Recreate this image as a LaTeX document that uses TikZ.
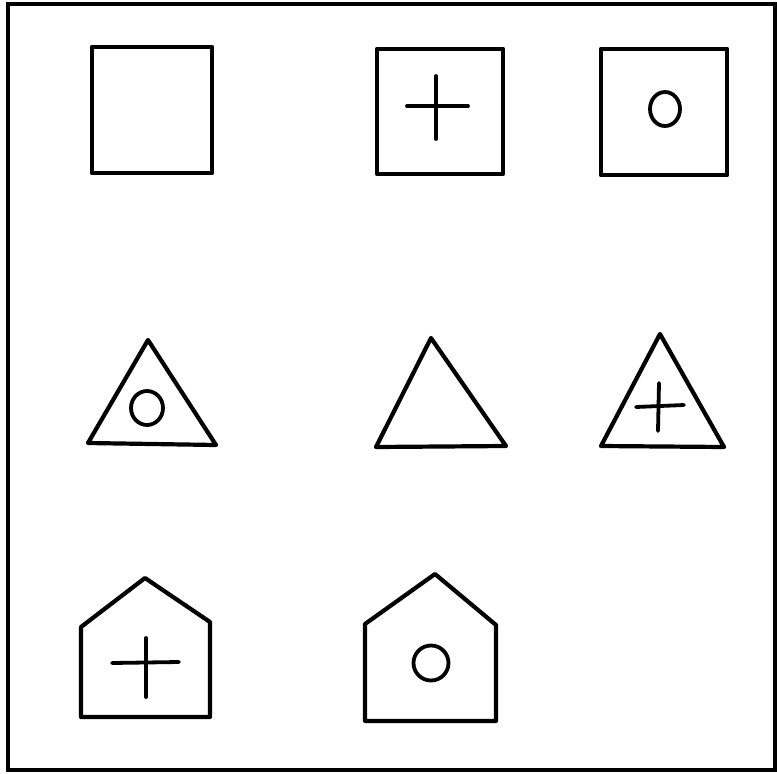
\documentclass[tikz,border=0pt]{standalone}
\usepackage{tikz}
\tikzset{
  figline/.style={draw=black, line width=4.2pt, line join=round},
  markline/.style={draw=black, line width=3.8pt, line cap=round},
  frameline/.style={draw=black, line width=3.6pt}
}

\begin{document}
\begin{tikzpicture}[x=1pt, y=-1pt]
  \useasboundingbox (0,0) rectangle (777,774);
  \draw[frameline] (8,4) rectangle (775,770);

  % row 1: squares
  \draw[figline] (92,47) rectangle (212,173);
  \draw[figline] (377,49) rectangle (503,174);
  \draw[figline] (601,49) rectangle (727,175);
  \draw[markline] (407,106) -- (468,106);
  \draw[markline] (436,76) -- (436,139);
  \draw[markline] (665,109) ellipse (15 and 17);

  % row 2: triangles
  \draw[figline] (148,340) -- (216,445) -- (88,443) -- cycle;
  \draw[figline] (431,338) -- (506,446) -- (376,447) -- cycle;
  \draw[figline] (660,334) -- (724,447) -- (601,446) -- cycle;
  \draw[markline] (147,408) ellipse (16 and 17);
  \draw[markline] (636,407) -- (684,405);
  \draw[markline] (659,383) -- (658,431);

  % row 3: houses
  \draw[figline] (81,627) -- (145,578) -- (210,622) -- (210,717) -- (81,717) -- cycle;
  \draw[figline] (365,624) -- (435,574) -- (496,625) -- (496,721) -- (365,721) -- cycle;
  \draw[markline] (112,663) -- (179,662);
  \draw[markline] (146,638) -- (146,697);
  \draw[markline] (431,663) circle (17.5);
\end{tikzpicture}
\end{document}
